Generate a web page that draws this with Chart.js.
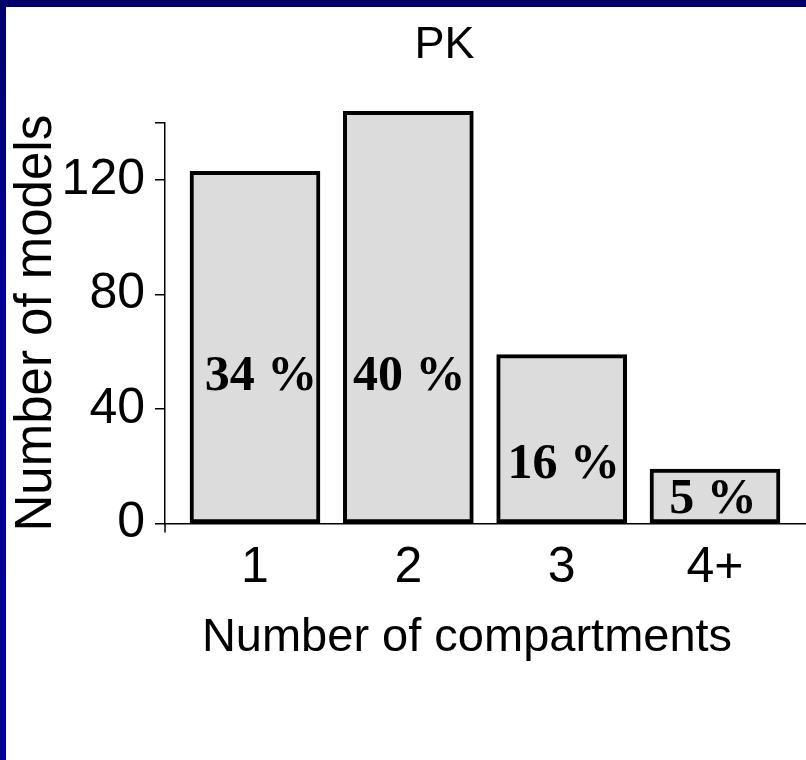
<!DOCTYPE html>
<html>
<head>
<meta charset="utf-8">
<script src="https://cdn.jsdelivr.net/npm/chart.js@4.4.1/dist/chart.umd.min.js"></script>
<style>
  html, body { margin: 0; padding: 0; background: #fff; }
  #frame { position: relative; width: 806px; height: 760px; overflow: hidden; background: #fff; }
  #topband { position: absolute; left: 0; top: 0; width: 806px; height: 7px; background: #00006a; }
  #leftband { position: absolute; left: 0; top: 0; width: 6px; height: 760px;
              background: linear-gradient(#00006a, #000094 35%, #000096); }
  #wrap { position: absolute; left: 6px; top: 7px; width: 800px; height: 753px; }
</style>
</head>
<body>
<div id="frame">
  <div id="topband"></div>
  <div id="leftband"></div>
  <div id="wrap"><canvas id="c" width="800" height="753"></canvas></div>
</div>
<script>
// Compartment classes and the number of models in each
const compartments = ['1', '2', '3', '4+'];
const positions = [1, 2, 3, 4];
const modelCounts = [123, 144, 59, 19];
const shares = [34, 40, 16, 5];          // share of all models, in %
const yTicks = [0, 40, 80, 120];
const yMax = 140;

const chartTitle = 'PK';
const xTitle = 'Number of compartments';
const yTitle = 'Number of models';

const SANS = "'Liberation Sans', Arial, sans-serif";
const SERIF = "'Liberation Serif', 'Times New Roman', serif";

// Title, x-axis caption, share labels and the small axis stub below zero
const decorations = {
  id: 'decorations',
  afterDatasetsDraw(chart, args, opts) {
    const { ctx, chartArea, scales: { y } } = chart;
    const meta = chart.getDatasetMeta(0);
    ctx.save();

    // y axis runs a little past the baseline
    ctx.strokeStyle = '#000';
    ctx.lineWidth = 1.5;
    ctx.beginPath();
    ctx.moveTo(chartArea.left, chartArea.bottom);
    ctx.lineTo(chartArea.left, chartArea.bottom + 9);
    ctx.stroke();

    // share labels inside the bars
    ctx.fillStyle = '#000';
    ctx.textAlign = 'center';
    ctx.textBaseline = 'middle';
    ctx.font = 'bold 50px ' + SERIF;
    meta.data.forEach((bar, i) => {
      ctx.fillText(shares[i] + ' %', bar.x + opts.shift[i], y.getPixelForValue(opts.levels[i]));
    });

    // chart title
    ctx.font = '45px ' + SANS;
    ctx.fillText(chartTitle, opts.titleAt[0], opts.titleAt[1]);

    // x-axis caption
    ctx.font = '47px ' + SANS;
    ctx.fillText(xTitle, opts.xTitleAt[0], opts.xTitleAt[1]);
    ctx.restore();
  }
};

new Chart(document.getElementById('c'), {
  type: 'bar',
  data: {
    datasets: [{
      data: modelCounts.map((v, i) => ({ x: positions[i], y: v })),
      backgroundColor: '#dcdcdc',
      borderColor: '#000',
      borderWidth: 4,
      borderSkipped: false,
      barThickness: 130,
      clip: false
    }]
  },
  options: {
    responsive: false,
    devicePixelRatio: 1,
    animation: false,
    layout: { padding: { top: 115.7, bottom: 146.4, left: 0, right: 1 } },
    plugins: {
      legend: { display: false },
      tooltip: { enabled: false },
      title: { display: false },
      decorations: {
        levels: [51, 51, 20.3, 8.2],
        shift: [6, 1, 2, -2],
        titleAt: [438.5, 39],
        xTitleAt: [461, 631]
      }
    },
    scales: {
      x: {
        type: 'linear',
        offset: false,
        min: 0.413,
        max: 4.587,
        afterBuildTicks: s => { s.ticks = positions.map(v => ({ value: v })); },
        ticks: {
          callback: v => compartments[positions.indexOf(v)],
          font: { family: SANS, size: 50 },
          color: '#000',
          padding: 15,
          maxRotation: 0,
          autoSkip: false
        },
        grid: { display: false, drawTicks: false, offset: false },
        border: { display: true, color: '#000', width: 1.5 }
      },
      y: {
        min: 0,
        max: yMax,
        afterBuildTicks: s => { s.ticks = [...yTicks, yMax].map(v => ({ value: v })); },
        afterFit: s => { s.width = 159; },
        ticks: {
          callback: v => (yTicks.includes(v) ? String(v) : ''),
          font: { family: SANS, size: 50 },
          color: '#000',
          padding: 10
        },
        grid: { drawOnChartArea: false, drawTicks: true, tickLength: 10, color: '#000', lineWidth: 1.5 },
        border: { display: true, color: '#000', width: 1.5 },
        title: {
          display: true,
          text: yTitle,
          color: '#000',
          font: { family: SANS, size: 51 },
          padding: { top: 0, bottom: 0 }
        }
      }
    }
  },
  plugins: [decorations]
});
</script>
</body>
</html>
